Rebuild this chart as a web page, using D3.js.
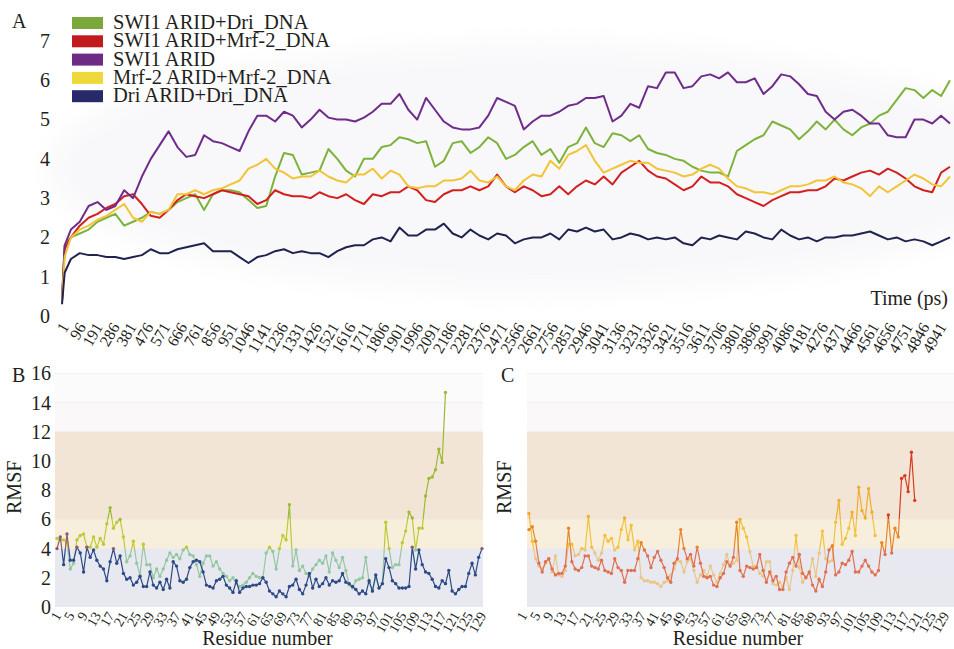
<!DOCTYPE html>
<html>
<head>
<meta charset="utf-8">
<script src="https://cdn.jsdelivr.net/npm/d3@7"></script>
<style>
    body { margin: 0; background: #fff; }
    svg { display: block; font-family: "Liberation Serif", "Times New Roman", serif; }
</style>
</head>
<body>
<svg id="chart" width="954" height="649"></svg>
<script>
// ---- panel A: RMSD over time (ps) ----
const timePs = [0, 15].concat(d3.range(50, 5001, 50));
const timeTicks = [1, 96, 191, 286, 381, 476, 571, 666, 761, 856, 951, 1046, 1141, 1236, 1331, 1426, 1521, 1616, 1711, 1806, 1901, 1996, 2091, 2186, 2281, 2376, 2471, 2566, 2661, 2756, 2851, 2946, 3041, 3136, 3231, 3326, 3421, 3516, 3611, 3706, 3801, 3896, 3991, 4086, 4181, 4276, 4371, 4466, 4561, 4656, 4751, 4846, 4941];

const seriesNames = ["SWI1 ARID+Dri_DNA", "SWI1 ARID+Mrf-2_DNA", "SWI1 ARID", "Mrf-2 ARID+Mrf-2_DNA", "Dri ARID+Dri_DNA"];

const swi1Dri = [0.4, 1.8,
    2.0, 2.1, 2.2, 2.4, 2.5, 2.6, 2.3, 2.4, 2.5, 2.65, 2.6, 2.7, 2.9, 3.0, 3.1, 2.7, 3.1, 3.2, 3.2, 3.15,
    2.95, 2.75, 2.8, 3.55, 4.15, 4.1, 3.6, 3.65, 3.7, 4.25, 4.0, 3.7, 3.55, 4.0, 4.0, 4.3, 4.35, 4.55, 4.5, 4.4,
    4.45, 3.8, 3.95, 4.4, 4.45, 4.15, 4.3,
    4.55, 4.4, 4.0, 4.1, 4.3, 4.45, 4.1, 4.25, 3.9, 4.3, 4.4, 4.8, 4.4, 4.3, 4.65, 4.6, 4.45, 4.6, 4.25, 4.15,
    4.1, 4.0, 3.95, 3.8, 3.7, 3.65, 3.65, 3.55, 4.2, 4.35, 4.5, 4.6, 4.95, 4.85, 4.75, 4.5, 4.7, 4.95, 4.75, 5.0,
    4.75, 4.6, 4.8, 4.9, 5.1, 5.2, 5.5, 5.8, 5.75, 5.55, 5.75, 5.6, 6.0];
const swi1Mrf = [0.4, 1.7,
    2.0, 2.3, 2.5, 2.6, 2.75, 2.85, 3.05, 3.1, 2.85, 2.55, 2.5, 2.7, 2.95, 3.1, 3.05, 3.0, 3.1, 3.2, 3.15, 3.1,
    3.05, 2.85, 2.95, 3.2, 3.1, 3.05, 3.05, 3.0, 3.15, 3.05, 3.0, 3.1, 2.95, 2.85, 3.1, 3.05, 3.15, 3.15, 3.3, 3.2,
    2.95, 2.9, 3.1, 3.2, 3.2, 3.3, 3.2,
    3.3, 3.6, 3.3, 3.15, 3.3, 3.2, 3.05, 3.1, 3.3, 3.1, 3.3, 3.45, 3.35, 3.55, 3.35, 3.65, 3.8, 3.95, 3.7, 3.55,
    3.5, 3.35, 3.2, 3.3, 3.55, 3.4, 3.4, 3.3, 3.1, 3.0, 2.9, 2.8, 2.95, 3.05, 3.15, 3.15, 3.2, 3.2, 3.3, 3.5,
    3.45, 3.55, 3.65, 3.7, 3.6, 3.75, 3.65, 3.5, 3.3, 3.2, 3.15, 3.65, 3.8];
const swi1Apo = [0.4, 1.8,
    2.2, 2.4, 2.8, 2.9, 2.7, 2.8, 3.2, 3.0, 3.55, 4.0, 4.35, 4.7, 4.3, 4.05, 4.1, 4.6, 4.45, 4.4, 4.3, 4.2,
    4.7, 5.1, 5.1, 4.95, 5.2, 5.1, 4.8, 5.0, 5.25, 5.05, 5.0, 5.0, 4.95, 5.05, 5.2, 5.4, 5.4, 5.65, 5.25, 5.0,
    5.55, 5.25, 4.95, 4.8, 4.75, 4.75, 4.8,
    5.1, 5.55, 5.45, 5.35, 4.75, 4.95, 5.1, 5.1, 5.2, 5.35, 5.4, 5.55, 5.55, 5.6, 4.95, 5.1, 5.4, 5.3, 5.85, 5.8,
    6.2, 6.2, 5.8, 5.85, 6.1, 6.15, 6.05, 6.2, 5.95, 5.95, 6.05, 5.65, 5.85, 6.15, 6.1, 5.9, 5.65, 5.6, 5.2, 5.0,
    5.2, 5.25, 5.1, 4.9, 4.9, 4.6, 4.55, 4.55, 5.0, 5.0, 4.9, 5.1, 4.9];
const mrfMrf = [0.4, 1.5,
    2.0, 2.2, 2.3, 2.45, 2.55, 2.7, 2.85, 2.5, 2.4, 2.65, 2.6, 2.7, 3.1, 3.1, 3.2, 3.1, 3.2, 3.25, 3.35, 3.45,
    3.75, 3.85, 4.0, 3.75, 3.65, 3.5, 3.55, 3.55, 3.7, 3.55, 3.45, 3.4, 3.6, 3.6, 3.75, 3.5, 3.7, 3.6, 3.3, 3.25,
    3.3, 3.3, 3.45, 3.45, 3.5, 3.7, 3.45,
    3.4, 3.55, 3.3, 3.2, 3.45, 3.6, 3.55, 3.95, 3.75, 4.1, 4.2, 4.35, 3.95, 3.65, 3.75, 3.85, 3.95, 3.9, 3.9, 3.75,
    3.7, 3.65, 3.55, 3.6, 3.75, 3.85, 3.75, 3.5, 3.3, 3.25, 3.15, 3.15, 3.1, 3.2, 3.3, 3.3, 3.35, 3.45, 3.45, 3.55,
    3.4, 3.35, 3.25, 3.05, 3.3, 3.15, 3.3, 3.45, 3.6, 3.5, 3.35, 3.3, 3.55];
const driDri = [0.3, 1.1,
    1.45, 1.6, 1.55, 1.55, 1.5, 1.5, 1.45, 1.5, 1.55, 1.7, 1.6, 1.6, 1.7, 1.75, 1.8, 1.85, 1.65, 1.65, 1.65, 1.5,
    1.35, 1.5, 1.55, 1.65, 1.7, 1.6, 1.65, 1.6, 1.6, 1.5, 1.65, 1.75, 1.8, 1.8, 1.95, 2.0, 1.9, 2.25, 2.05, 2.05,
    2.2, 2.2, 2.35, 2.1, 2.0, 2.2, 2.05,
    1.95, 2.1, 2.05, 1.85, 1.95, 2.0, 2.0, 2.1, 1.95, 2.2, 2.15, 2.25, 2.15, 2.2, 1.95, 2.0, 2.1, 2.05, 1.95, 2.0,
    1.95, 2.0, 1.85, 1.8, 2.0, 1.95, 2.05, 2.0, 1.95, 2.15, 2.1, 2.0, 1.95, 2.2, 2.05, 1.95, 2.0, 1.9, 2.0, 2.0,
    2.05, 2.05, 2.1, 2.15, 2.05, 1.95, 2.0, 1.9, 1.95, 1.9, 1.8, 1.9, 2.0];

// ---- panels B and C: RMSF per residue ----
const residueTicks = [1, 5, 9, 13, 17, 21, 25, 29, 33, 37, 41, 45, 49, 53, 57, 61, 65, 69, 73, 77, 81, 85, 89, 93, 97, 101, 105, 109, 113, 117, 121, 125, 129];
const rmsfTicks = [0, 2, 4, 6, 8, 10, 12, 14, 16];

// B: Dri ARID + Dri_DNA (blue), SWI1 ARID + Dri_DNA (green)
const rmsfDriDri = [4.0, 4.8, 2.9, 5.0, 3.2, 3.2, 4.1, 3.7, 2.4, 4.1,
    3.4, 3.9, 3.2, 2.8, 2.6, 1.8, 3.1, 4.0, 3.0, 3.5,
    2.3, 1.9, 2.0, 1.5, 1.7, 2.1, 1.4, 1.4, 2.4, 1.5,
    1.3, 1.7, 1.2, 1.9, 1.3, 3.1, 2.8, 1.8, 1.7, 1.9,
    2.7, 3.1, 3.2, 3.1, 2.4, 1.5, 1.4, 1.3, 1.8, 1.9,
    2.1, 1.5, 1.3, 1.0, 1.8, 1.0, 1.3, 1.4, 1.4, 1.5,
    1.5, 1.6, 2.0, 1.7, 1.1, 0.9, 0.7, 1.1, 0.9, 0.7,
    1.4, 1.5, 1.9, 1.2, 0.9, 1.5, 2.3, 1.3, 1.9, 1.4,
    1.6, 2.0, 1.5, 1.8, 1.7, 1.8, 2.3, 1.7, 1.6, 1.4,
    1.2, 0.9, 1.1, 0.9, 1.8, 1.1, 2.2, 1.3, 1.6, 3.3,
    2.7, 1.8, 1.6, 1.3, 1.3, 1.3, 1.4, 4.1, 2.6, 3.9,
    2.9, 2.4, 2.3, 1.9, 1.4, 1.3, 1.8, 1.6, 2.5, 1.1,
    0.9, 1.2, 1.4, 1.4, 2.3, 3.0, 2.2, 3.4, 4.0];
const rmsfSwiDri = [4.7, 4.6, 4.6, 4.4, 2.6, 3.0, 4.6, 4.9, 5.0, 4.1,
    4.1, 4.8, 4.1, 4.7, 4.3, 5.7, 6.8, 5.4, 5.8, 6.0,
    4.8, 3.1, 3.5, 4.5, 3.0, 2.2, 4.3, 2.9, 2.9, 2.0,
    2.6, 2.1, 2.6, 3.2, 3.7, 3.4, 3.6, 3.3, 3.9, 4.1,
    3.6, 3.5, 2.9, 2.1, 3.0, 3.5, 3.5, 2.8, 3.1, 2.6,
    2.3, 2.1, 1.8, 2.0, 1.6, 1.4, 1.5, 1.7, 2.0, 2.3,
    2.1, 2.0, 2.0, 3.7, 4.1, 3.8, 2.6, 4.0, 4.9, 4.6,
    7.0, 2.8, 3.9, 2.5, 2.8, 2.3, 2.1, 2.6, 2.9, 3.2,
    3.0, 3.5, 2.4, 3.7, 3.2, 2.7, 3.4, 2.5, 1.5, 1.3,
    1.8, 1.9, 2.0, 3.4, 1.7, 1.1, 2.0, 1.3, 1.6, 5.8,
    4.0, 2.7, 2.9, 2.9, 4.4, 5.2, 6.5, 6.1, 3.9, 5.4,
    5.4, 7.6, 8.8, 8.9, 9.4, 10.8, 9.9, 14.7];

// C: SWI1 ARID + Mrf-2_DNA (red), Mrf-2 ARID + Mrf-2_DNA (yellow)
const rmsfSwiMrf = [5.3, 5.5, 4.5, 3.0, 2.4, 3.1, 3.3, 2.6, 2.2, 2.3,
    2.3, 2.8, 5.4, 3.1, 2.6, 2.5, 2.7, 3.5, 3.5, 2.8,
    2.7, 2.6, 3.2, 2.5, 2.4, 2.3, 3.3, 2.7, 2.5, 1.7,
    2.5, 2.5, 2.5, 3.3, 4.4, 3.9, 3.5, 2.7, 3.4, 3.8,
    3.2, 2.7, 2.0, 1.7, 3.0, 3.3, 5.3, 4.0, 3.3, 3.6,
    2.8, 4.1, 3.0, 2.1, 2.0, 2.1, 1.5, 1.4, 2.0, 2.3,
    3.1, 2.8, 3.4, 5.8, 2.5, 2.1, 2.8, 2.7, 2.6, 2.7,
    3.6, 2.5, 1.7, 2.4, 1.8, 2.1, 1.2, 1.2, 2.4, 3.0,
    3.4, 2.8, 3.6, 2.3, 2.0, 2.4, 1.5, 1.1, 1.9, 1.4,
    2.4, 3.9, 4.2, 2.2, 2.4, 3.0, 2.9, 3.2, 3.8, 2.4,
    2.4, 2.8, 3.2, 2.8, 2.4, 2.2, 2.5, 4.4, 3.6, 6.3,
    3.7, 5.4, 4.8, 8.8, 9.0, 7.9, 10.6, 7.3];
const rmsfMrfMrf = [6.4, 4.5, 3.3, 2.8, 2.6, 3.0, 3.3, 2.4, 3.5, 2.2,
    2.1, 2.5, 4.3, 4.3, 3.5, 3.6, 4.0, 3.9, 6.2, 4.1,
    3.7, 3.2, 3.7, 4.9, 4.5, 4.7, 3.9, 4.1, 5.3, 6.1,
    4.6, 5.6, 3.9, 4.5, 2.0, 1.8, 1.8, 1.7, 1.7, 1.6,
    1.4, 1.7, 1.8, 2.2, 2.6, 3.2, 3.1, 2.4, 3.1, 3.3,
    2.5, 1.7, 2.2, 2.5, 2.1, 2.8, 2.2, 1.7, 2.3, 2.9,
    3.6, 2.8, 3.0, 3.2, 6.0, 5.4, 4.8, 3.8, 2.8, 2.8,
    2.3, 2.1, 3.1, 3.1, 1.6, 1.5, 1.7, 1.4, 2.0, 1.2,
    2.5, 4.9, 2.7, 1.7, 2.1, 2.3, 3.3, 2.1, 3.7, 5.2,
    3.3, 3.1, 3.2, 5.8, 7.3, 4.3, 4.7, 5.4, 6.5, 4.9,
    8.2, 6.6, 6.1, 8.1, 6.5, 4.9];

// barvy
const lineColors = ["#7db23b", "#d2201f", "#6f2c8b", "#f1c535", "#20234f"];
const legendColors = ["#7aa83a", "#c11b1e", "#6e2b85", "#efd93a", "#28296a"];
const bandColors = { blue: ["#2c4a85", "#8c5b72", "#8c5b72"],
                     green: ["#94c7a0", "#bccb35", "#9dba36"],
                     red: ["#e07150", "#e8862c", "#d83c1f"],
                     yellow: ["#e9c684", "#f1c23c", "#efad2c"] };
const textColor = "#231f20";
const serif = "Liberation Serif, Times New Roman, serif";

const svg = d3.select("#chart");
const defs = svg.append("defs");

// ================= PANEL A =================
const xA = d3.scaleLinear().domain([0, 5000]).range([62, 950]);
const yA = d3.scaleLinear().domain([0, 7]).range([316, 41]);

defs.append("filter").attr("id", "soft")
    .append("feGaussianBlur").attr("stdDeviation", 14);

// jemne sede pozadi
svg.append("ellipse")
    .attr("cx", 540).attr("cy", 168).attr("rx", 490).attr("ry", 122)
    .attr("fill", "#f8f7f9")
    .attr("filter", "url(#soft)");

const gA = svg.append("g").attr("font-family", serif);

const yAxisA = gA.append("g")
    .attr("transform", `translate(${xA(0)},0)`)
    .call(d3.axisLeft(yA).ticks(7).tickSize(0).tickPadding(12));
yAxisA.select(".domain").remove();
yAxisA.selectAll("text").attr("font-size", 20).attr("fill", textColor)
    .attr("font-family", serif);

const xAxisA = gA.append("g")
    .attr("transform", `translate(0,${yA(0)})`)
    .call(d3.axisBottom(xA).tickValues(timeTicks).tickSize(0).tickFormat(d3.format("d")));
xAxisA.select(".domain").remove();
xAxisA.selectAll("text")
    .attr("font-size", 16).attr("fill", textColor)
    .attr("font-family", serif)
    .attr("text-anchor", "end")
    .attr("x", 0).attr("y", 0).attr("dy", "0.35em")
    .attr("transform", "translate(2,8) rotate(-60)");

gA.append("text")
    .attr("x", 948).attr("y", 305)
    .attr("text-anchor", "end")
    .attr("font-size", 20).attr("fill", textColor)
    .text("Time (ps)");

const seriesA = [swi1Dri, swi1Mrf, swi1Apo, mrfMrf, driDri];
const lineA = d3.line()
    .x((d, i) => xA(timePs[i]))
    .y(d => yA(d));

seriesA.forEach((s, k) => {
    gA.append("path")
        .datum(s)
        .attr("fill", "none")
        .attr("stroke", lineColors[k])
        .attr("stroke-width", 2)
        .attr("stroke-linejoin", "round")
        .attr("d", lineA);
});

// legenda
const legendA = svg.append("g").attr("font-family", serif);
seriesNames.forEach((name, k) => {
    const yy = 17 + k * 18.3;
    legendA.append("rect")
        .attr("x", 72).attr("y", yy).attr("width", 31).attr("height", 12)
        .attr("fill", legendColors[k]);
    legendA.append("text")
        .attr("x", 113).attr("y", yy + 12)
        .attr("font-size", 20.5).attr("fill", textColor)
        .text(name);
});

svg.append("text").attr("x", 12).attr("y", 28).attr("font-family", serif)
    .attr("font-size", 20).attr("fill", textColor).text("A");

// ================= PANELS B, C =================
const yR = d3.scaleLinear().domain([0, 16]).range([607, 373.4]);

const bands = [
    { from: 0, to: 4, fill: "#e8e8f1" },
    { from: 4, to: 6, fill: "#f7efdc" },
    { from: 6, to: 12, fill: "#f3e5d6" },
    { from: 12, to: 14, fill: "#faf8f8" },
    { from: 14, to: 16, fill: "#fcfbfb" }
];

// gradient podle hodnoty (y)
function makeGradient(id, colors) {
    const g = defs.append("linearGradient")
        .attr("id", id)
        .attr("gradientUnits", "userSpaceOnUse")
        .attr("x1", 0).attr("x2", 0)
        .attr("y1", yR(0)).attr("y2", yR(16));
    const f4 = 4 / 16, f6 = 6 / 16;
    [[0, colors[0]], [f4, colors[0]], [f4, colors[1]], [f6, colors[1]], [f6, colors[2]], [1, colors[2]]]
        .forEach(s => g.append("stop").attr("offset", s[0]).attr("stop-color", s[1]));
}
Object.keys(bandColors).forEach(k => makeGradient("grad-" + k, bandColors[k]));

function drawRmsfPanel(opts, series) {
    const x0 = opts.x0, x1 = opts.x1;
    const x = d3.scaleLinear().domain([1, 129]).range([x0, x1]);
    const g = svg.append("g").attr("font-family", serif);

    bands.forEach(b => {
        g.append("rect")
            .attr("x", x0 - 2).attr("width", opts.bandW)
            .attr("y", yR(b.to)).attr("height", yR(b.from) - yR(b.to))
            .attr("fill", b.fill);
    });
    g.selectAll(".grid").data(rmsfTicks.slice(1)).enter().append("line")
        .attr("x1", x0 - 2).attr("x2", x0 - 2 + opts.bandW)
        .attr("y1", d => yR(d)).attr("y2", d => yR(d))
        .attr("stroke", "#ebe7e7").attr("stroke-width", 1).attr("opacity", 0.6);

    if (opts.yLabels) {
        const ya = g.append("g")
            .attr("transform", `translate(${x0 - 2},0)`)
            .call(d3.axisLeft(yR).tickValues(rmsfTicks).tickSize(0).tickPadding(4));
        ya.select(".domain").remove();
        ya.selectAll("text").attr("font-size", 20).attr("fill", textColor)
            .attr("font-family", serif);
    }

    const xa = g.append("g")
        .attr("transform", `translate(0,${yR(0)})`)
        .call(d3.axisBottom(x).tickValues(residueTicks).tickSize(0));
    xa.select(".domain").remove();
    xa.selectAll("text")
        .attr("font-size", 14).attr("fill", textColor)
        .attr("font-family", serif)
        .attr("text-anchor", "end")
        .attr("x", 0).attr("y", 0).attr("dy", "0.35em")
        .attr("transform", `translate(${opts.tickShift},6) rotate(-60)`);

    g.append("text")
        .attr("transform", `translate(${opts.rmsfX},${yR(8.2)}) rotate(-90)`)
        .attr("text-anchor", "middle")
        .attr("font-size", 20).attr("fill", textColor)
        .text("RMSF");

    g.append("text")
        .attr("x", (x0 + x1) / 2 - 2).attr("y", 645)
        .attr("text-anchor", "middle")
        .attr("font-size", 20).attr("fill", textColor)
        .text("Residue number");

    svg.append("text").attr("x", opts.labelX).attr("y", 382).attr("font-family", serif)
        .attr("font-size", 20).attr("fill", textColor).text(opts.label);

    const line = d3.line().x((d, i) => x(i + 1)).y(d => yR(d));
    series.forEach(s => {
        const cols = bandColors[s.colors];
        const pick = d3.scaleThreshold().domain([4, 6]).range(cols);
        g.append("path")
            .datum(s.values)
            .attr("fill", "none")
            .attr("stroke", `url(#grad-${s.colors})`)
            .attr("stroke-width", 1.2)
            .attr("d", line);
        g.selectAll(null).data(s.values).enter().append("circle")
            .attr("cx", (d, i) => x(i + 1))
            .attr("cy", d => yR(d))
            .attr("r", 1.7)
            .attr("fill", d => pick(d));
    });
}

drawRmsfPanel({ x0: 57, x1: 482, bandW: 428, label: "B", labelX: 12, rmsfX: 21, yLabels: true, tickShift: 0 }, [
    { values: rmsfSwiDri, colors: "green" },
    { values: rmsfDriDri, colors: "blue" }
]);
drawRmsfPanel({ x0: 529, x1: 951, bandW: 427, label: "C", labelX: 501, rmsfX: 511, yLabels: false, tickShift: -6 }, [
    { values: rmsfMrfMrf, colors: "yellow" },
    { values: rmsfSwiMrf, colors: "red" }
]);
</script>
</body>
</html>
